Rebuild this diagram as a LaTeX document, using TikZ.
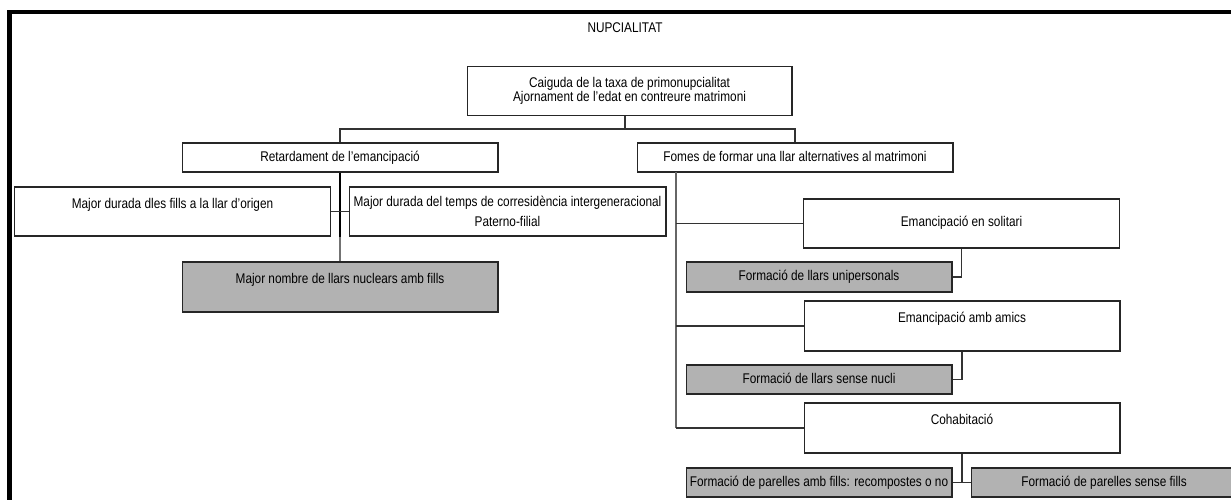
\documentclass[tikz,border=0pt]{standalone}
\usepackage{fontspec}
\setmainfont{Liberation Sans}[FakeStretch=0.84]
\usepackage{tikz}
\usetikzlibrary{positioning}
\definecolor{boxgray}{RGB}{178,178,178}
\tikzstyle{block} = [draw=black!85, line width=0.6pt, minimum width=6.32cm, minimum height=0.58cm, inner sep=0pt, text height=0.21cm, text depth=0.06cm]
\tikzstyle{tallblock} = [block, minimum height=0.98cm, text height=0.42cm, text depth=0.56cm]
\tikzstyle{twoline} = [block, minimum height=0.97cm, align=center, text height={}, text depth={}]
\tikzstyle{smallblock} = [block, minimum width=5.32cm, fill=boxgray]
\tikzstyle{link} = [draw=black!80, line width=0.6pt]
\tikzstyle{branch} = [coordinate]

\begin{document}
\begin{tikzpicture}[x=0.02cm, y=-0.02cm, font=\fontsize{8}{8}\selectfont]
    \useasboundingbox (0,0) rectangle (1231,500);
    % frame
    \draw [line width=0.09cm] (9.5,505) -- (9.5,12) -- (1240,12);

    \node [name=title] at (625,28) {NUPCIALITAT};
    \node [twoline, minimum width=6.5cm, name=nupc] at (629.5,91) {Caiguda de la taxa de primonupcialitat\\Ajornament de l'edat en contreure matrimoni};

    % left side
    \node [block, name=retard] at (340,157.5) {Retardament de l'emancipació};
    \node [tallblock, minimum width=6.34cm, name=majdur] at (172.5,211.5) {Major durada dles fills a la llar d'origen};
    \node [twoline, minimum width=6.34cm, minimum height=0.98cm, name=majtemps] at (507.5,211.5) {Major durada del temps de corresidència intergeneracional\\[3.4pt]Paterno-filial};
    \node [tallblock, fill=boxgray, minimum height=1.0cm, name=nuclears] at (340,287) {Major nombre de llars nuclears amb fills};

    % right side
    \node [block, name=formes] at (795,157.5) {Fomes de formar una llar alternatives al matrimoni};
    \node [tallblock, text height=0.55cm, text depth=0.43cm, name=solitari] at (961.5,223.5) {Emancipació en solitari};
    \node [smallblock, minimum height=0.6cm, name=unipers] at (819,277) {Formació de llars unipersonals};
    \node [tallblock, minimum height=1.0cm, name=amics] at (962,326) {Emancipació amb amics};
    \node [smallblock, name=nucli] at (819,379.5) {Formació de llars sense nucli};
    \node [tallblock, minimum height=1.0cm, name=cohab] at (962,428) {Cohabitació};
    \node [smallblock, name=ambfills] at (819,482.5) {Formació de parelles amb fills: recompostes o no};
    \node [smallblock, name=sensefills] at (1104,482.5) {Formació de parelles sense fills};

    \node [branch, name=split] at (625,129) {};
    \node [branch, name=trunk] at (676,172) {};

    \draw [link] (split |- nupc.south) -- (split);
    \draw [link] (retard.north) |- (split) -| (formes.north);
    \draw [line width=1.2pt] (retard.south) -- (retard.south |- majdur.south);
    \draw [link, draw=black!55] (retard.south |- majdur.south) -- (nuclears.north);
    \draw [link] (majdur.east) -- (majtemps.west);

    \draw [link, draw=black!60] (trunk) -- (trunk |- cohab.west);
    \draw [link] (trunk |- solitari.west) -- (solitari.west);
    \draw [link] (trunk |- amics.west) -- (amics.west);
    \draw [link] (trunk |- cohab.west) -- (cohab.west);
    \draw [link] (solitari.south) |- (unipers.east);
    \draw [link] (amics.south) |- (nucli.east);
    \draw [link] (cohab.south) |- (ambfills.east);
    \draw [link] (ambfills.east) -- (sensefills.west);
  \end{tikzpicture}
\end{document}
